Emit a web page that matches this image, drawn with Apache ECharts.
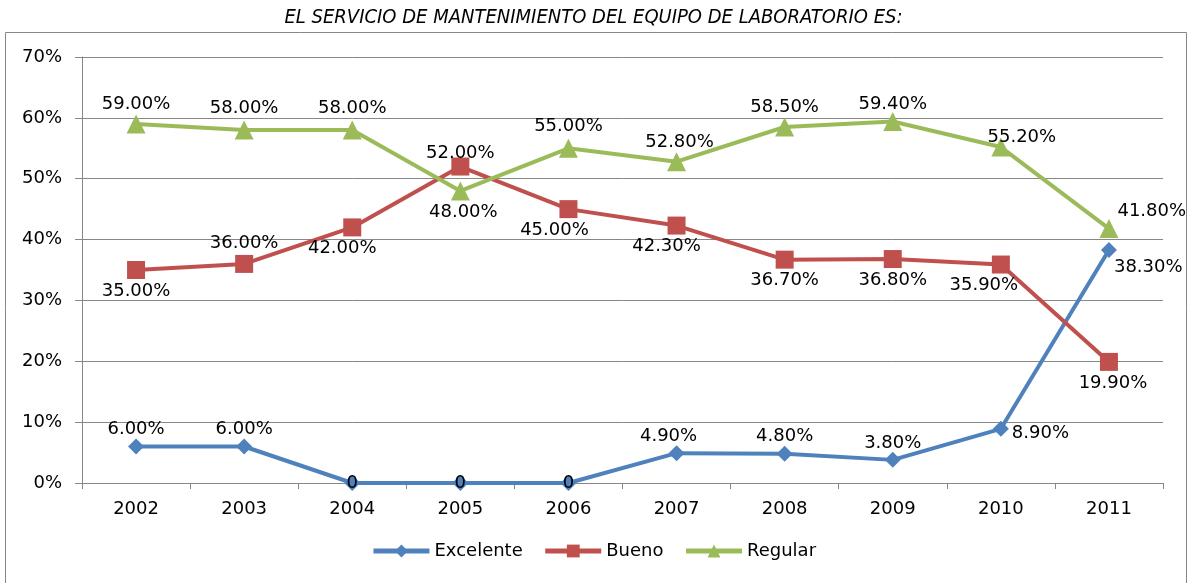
<!DOCTYPE html>
<html>
<head>
<meta charset="utf-8">
<script src="https://cdn.jsdelivr.net/npm/echarts@6/dist/echarts.min.js"></script>
<style>
  html, body { margin: 0; padding: 0; background: #fff; }
  #chart { width: 1187px; height: 583px; }
</style>
</head>
<body>
<div id="chart"></div>
<script>
// data
const years = ["2002", "2003", "2004", "2005", "2006", "2007", "2008", "2009", "2010", "2011"];
const excelente = [6, 6, 0, 0, 0, 4.9, 4.8, 3.8, 8.9, 38.3];
const bueno = [35, 36, 42, 52, 45, 42.3, 36.7, 36.8, 35.9, 19.9];
const regular = [59, 58, 58, 48, 55, 52.8, 58.5, 59.4, 55.2, 41.8];

// where each value label sits, and a small nudge
const excelentePos = ["top", "top", "inside", "inside", "inside", "top", "top", "top", "right", "right"];
const excelenteNudge = [[0, 3], [0, 3], [0, 0], [0, 0], [0, 0], [-8, 3], [0, 3], [0, 3], [0, 4], [-6, 17]];
const buenoPos = ["bottom", "top", "bottom", "top", "bottom", "bottom", "bottom", "bottom", "bottom", "bottom"];
const buenoNudge = [[0, 0], [0, 0], [-10, 0], [0, 8], [-14, 0], [-10, 0], [0, 0], [0, 0], [-17, 0], [4, 0]];
const regularPos = ["top", "top", "top", "bottom", "top", "top", "top", "top", "top", "right"];
const regularNudge = [[0, 2], [0, 0], [0, 0], [3, 0], [0, 0], [3, 2], [0, 2], [0, 4], [21, 12], [-4, -17]];

const font = "DejaVu Sans";
const fmt = (v) => (v === 0 ? "0" : v.toFixed(2) + "%");

function withLabels(values, pos, nudge) {
  return values.map((v, i) => ({
    value: v,
    label: { position: pos[i], offset: nudge[i] },
  }));
}

function lineSeries(name, values, pos, nudge, color, symbol, size) {
  return {
    name: name,
    type: "line",
    data: withLabels(values, pos, nudge),
    symbol: symbol,
    symbolSize: size,
    itemStyle: { color: color },
    lineStyle: { color: color, width: 4 },
    label: {
      show: true,
      formatter: (p) => fmt(p.value),
      fontFamily: font,
      fontSize: 18,
      color: "#000",
      distance: 3,
    },
    animation: false,
  };
}

const chart = echarts.init(document.getElementById("chart"));
chart.setOption({
  title: {
    text: "EL SERVICIO DE MANTENIMIENTO DEL EQUIPO DE LABORATORIO ES:",
    left: "center",
    top: 3,
    textStyle: {
      fontFamily: "DejaVu Sans Condensed, Liberation Sans",
      fontStyle: "italic",
      fontWeight: "normal",
      fontSize: 20,
      color: "#000",
    },
  },
  graphic: [
    {
      type: "rect",
      shape: { x: 5.5, y: 32.5, width: 1181, height: 560 },
      style: { fill: "none", stroke: "#878787", lineWidth: 1 },
      silent: true,
    },
  ],
  legend: {
    bottom: 18,
    left: "center",
    itemWidth: 56,
    itemHeight: 16,
    itemGap: 20,
    lineStyle: { width: 5 },
    textStyle: { fontFamily: font, fontSize: 18, color: "#000" },
    data: ["Excelente", "Bueno", "Regular"],
  },
  grid: { left: 82, right: 24, top: 57, bottom: 100 },
  xAxis: {
    type: "category",
    data: years,
    boundaryGap: true,
    axisLine: { lineStyle: { color: "#878787" } },
    axisTick: { show: true, length: 6, lineStyle: { color: "#878787" } },
    axisLabel: { fontFamily: font, fontSize: 18, color: "#000", margin: 17 },
  },
  yAxis: {
    type: "value",
    min: 0,
    max: 70,
    interval: 10,
    axisLine: { show: true, lineStyle: { color: "#878787" } },
    axisTick: { show: true, length: 7, lineStyle: { color: "#878787" } },
    splitLine: { lineStyle: { color: "#878787" } },
    axisLabel: {
      fontFamily: font,
      fontSize: 18,
      color: "#000",
      margin: 20,
      formatter: (v) => v + "%",
    },
  },
  series: [
    lineSeries("Excelente", excelente, excelentePos, excelenteNudge, "#4F81BD", "diamond", 16),
    lineSeries("Bueno", bueno, buenoPos, buenoNudge, "#C0504D", "rect", 18),
    lineSeries("Regular", regular, regularPos, regularNudge, "#9BBB59", "triangle", 19),
  ],
});
</script>
</body>
</html>
